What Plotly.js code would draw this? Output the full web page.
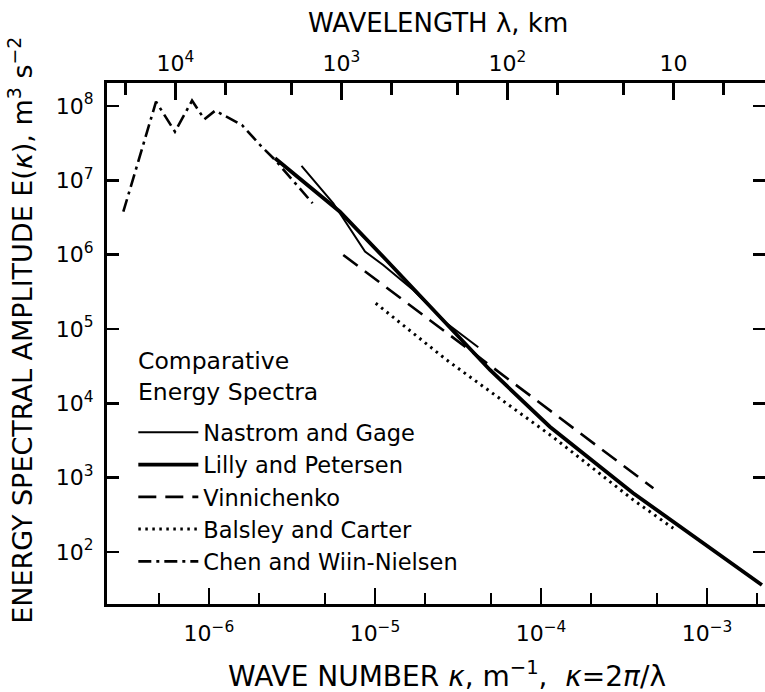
<!DOCTYPE html>
<html>
<head>
<meta charset="utf-8">
<script src="https://cdn.plot.ly/plotly-3.0.1.min.js"></script>
<style>html,body{margin:0;padding:0;background:#fff;overflow:hidden;}</style>
</head>
<body>
<div id="chart" style="width:765px;height:692px;"></div>
<script>
// Wave number (m^-1) and energy spectral amplitude (m^3 s^-2)
const kappaNastrom = [3.61e-6, 5.61e-6, 8.71e-6, 1.12e-5, 1.70e-5, 2.70e-5, 4.19e-5];
const energyNastrom = [1.56e7, 4.91e6, 1.10e6, 7.26e5, 3.35e5, 1.19e5, 5.68e4];

const kappaLilly = [2.50e-6, 6.15e-6, 1.17e-5, 2.47e-5, 4.93e-5, 1.13e-4, 3.58e-4, 2.14e-3];
const energyLilly = [1.98e7, 3.78e6, 8.47e5, 1.46e5, 2.81e4, 4.84e3, 621, 36.0];

const kappaVinni = [6.44e-6, 5.66e-5, 4.75e-4];
const energyVinni = [9.89e5, 2.56e4, 719];

const kappaBalsley = [1.01e-5, 2.70e-5, 1.18e-4, 3.60e-4, 6.26e-4];
const energyBalsley = [2.22e5, 3.83e4, 3.52e3, 500, 208];

const kappaChen = [3.05e-7, 4.80e-7, 6.24e-7, 7.91e-7, 9.39e-7, 1.09e-6, 1.58e-6, 2.03e-6, 2.50e-6, 4.21e-6];
const energyChen = [3.78e6, 1.14e8, 4.51e7, 1.18e8, 6.62e7, 8.65e7, 5.55e7, 2.99e7, 1.88e7, 4.91e6];

// Axis ticks
const kappaMajor = [1e-6, 1e-5, 1e-4, 1e-3];
const kappaMajorText = ['10<sup>−6</sup>', '10<sup>−5</sup>', '10<sup>−4</sup>', '10<sup>−3</sup>'];
const kappaMinor = [5e-7, 2e-6, 5e-6, 2e-5, 5e-5, 2e-4, 5e-4, 2e-3];
const lambdaMajorKm = [1e4, 1e3, 1e2, 10];
const lambdaMajorText = ['10<sup>4</sup>', '10<sup>3</sup>', '10<sup>2</sup>', '10'];
const lambdaMinorKm = [2e4, 5e3, 2e3, 500, 200, 50, 20, 5];
const energyTicks = [1e2, 1e3, 1e4, 1e5, 1e6, 1e7, 1e8];
const energyTickText = ['10<sup>2</sup>', '10<sup>3</sup>', '10<sup>4</sup>', '10<sup>5</sup>', '10<sup>6</sup>', '10<sup>7</sup>', '10<sup>8</sup>'];

const toKappa = km => 2 * Math.PI / (km * 1000);

const FONT = 'DejaVu Sans, sans-serif';
const xRange = [-6.614, -2.651];
const yRange = [1.30, 8.309];

const traces = [
  {x: kappaNastrom, y: energyNastrom, name: 'Nastrom and Gage', mode: 'lines',
   line: {color: '#000', width: 2}},
  {x: kappaLilly, y: energyLilly, name: 'Lilly and Petersen', mode: 'lines',
   line: {color: '#000', width: 3.8}},
  {x: kappaVinni, y: energyVinni, name: 'Vinnichenko', mode: 'lines',
   line: {color: '#000', width: 2.6, dash: '18px,9px'}},
  {x: kappaBalsley, y: energyBalsley, name: 'Balsley and Carter', mode: 'lines',
   line: {color: '#000', width: 3, dash: '2.5px,4.5px'}},
  {x: kappaChen, y: energyChen, name: 'Chen and Wiin-Nielsen', mode: 'lines',
   line: {color: '#000', width: 2.6, dash: '13px,5px,3px,5px'}},
  {x: [], y: [], xaxis: 'x2', yaxis: 'y2', showlegend: false, hoverinfo: 'skip'}
];

const layout = {
  width: 765, height: 692,
  margin: {l: 107, r: 0, t: 83, b: 88},
  paper_bgcolor: '#fff', plot_bgcolor: '#fff',
  font: {family: FONT, color: '#000', size: 22},
  showlegend: true,
  legend: {
    x: 0.04, y: 0.370, xanchor: 'left', yanchor: 'top',
    bgcolor: 'rgba(0,0,0,0)', borderwidth: 0,
    font: {family: FONT, size: 22.5, color: '#000'},
    itemwidth: 60, traceorder: 'normal'
  },
  xaxis: {
    type: 'log', range: xRange, showgrid: false, zeroline: false,
    showline: true, linecolor: '#000', linewidth: 3,
    ticks: 'inside', ticklen: 16, tickwidth: 2.5, tickcolor: '#000',
    tickmode: 'array', tickvals: kappaMajor, ticktext: kappaMajorText,
    tickfont: {family: FONT, size: 22, color: '#000'}, ticklabelstandoff: 8,
    minor: {tickmode: 'array', tickvals: kappaMinor, ticks: 'inside', ticklen: 11, tickwidth: 2.5, tickcolor: '#000', showgrid: false}
  },
  xaxis2: {
    type: 'log', range: xRange, overlaying: 'x', side: 'top', anchor: 'y',
    showgrid: false, zeroline: false,
    showline: true, linecolor: '#000', linewidth: 3,
    ticks: 'inside', ticklen: 17, tickwidth: 2.5, tickcolor: '#000',
    tickmode: 'array', tickvals: lambdaMajorKm.map(toKappa), ticktext: lambdaMajorText,
    tickfont: {family: FONT, size: 22, color: '#000'}, ticklabelstandoff: 0,
    minor: {tickmode: 'array', tickvals: lambdaMinorKm.map(toKappa), ticks: 'inside', ticklen: 12, tickwidth: 2.5, tickcolor: '#000', showgrid: false}
  },
  yaxis: {
    type: 'log', range: yRange, showgrid: false, zeroline: false,
    showline: true, linecolor: '#000', linewidth: 3,
    ticks: 'inside', ticklen: 12, tickwidth: 2.5, tickcolor: '#000',
    tickmode: 'array', tickvals: energyTicks, ticktext: energyTickText,
    tickfont: {family: FONT, size: 22, color: '#000'}, ticklabelstandoff: 6
  },
  yaxis2: {
    type: 'log', range: yRange, overlaying: 'y', side: 'right', anchor: 'x',
    showgrid: false, zeroline: false, showline: false,
    ticks: 'inside', ticklen: 12, tickwidth: 2.5, tickcolor: '#000',
    tickmode: 'array', tickvals: energyTicks, showticklabels: false
  },
  annotations: [
    {text: 'WAVELENGTH λ, km', xref: 'paper', yref: 'paper', x: 0.503, y: 1.115,
     xanchor: 'center', yanchor: 'middle', showarrow: false,
     font: {family: FONT, size: 26, color: '#000'}},
    {text: 'WAVE NUMBER <i>κ</i>, m<sup>−1</sup>,  <i>κ</i>=2<i>π</i>/λ', xref: 'paper', yref: 'paper', x: 0.517, y: -0.135,
     xanchor: 'center', yanchor: 'middle', showarrow: false,
     font: {family: FONT, size: 28, color: '#000'}},
    {text: 'ENERGY SPECTRAL AMPLITUDE E(<i>κ</i>), m<sup>3</sup> s<sup>−2</sup>', xref: 'paper', yref: 'paper', x: -0.131, y: 0.526,
     xanchor: 'center', yanchor: 'middle', showarrow: false, textangle: -90,
     font: {family: FONT, size: 27, color: '#000'}},
    {text: 'Comparative<br>Energy Spectra', xref: 'paper', yref: 'paper', x: 0.044, y: 0.498,
     xanchor: 'left', yanchor: 'top', align: 'left', showarrow: false,
     font: {family: FONT, size: 23.5, color: '#000'}}
  ]
};

Plotly.newPlot('chart', traces, layout, {staticPlot: true, displayModeBar: false});
</script>
</body>
</html>
